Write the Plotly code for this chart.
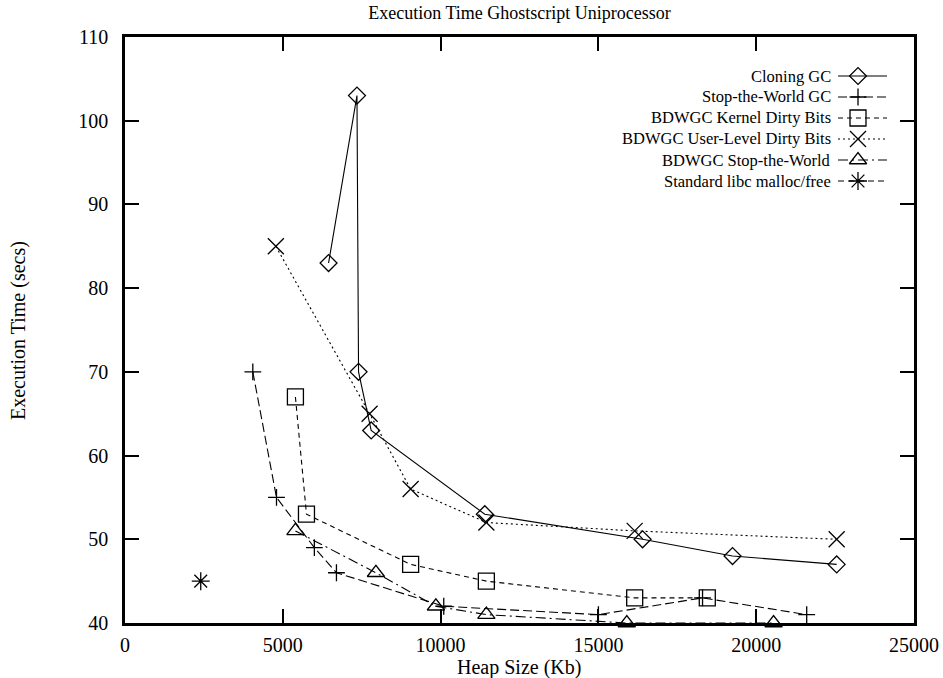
import plotly.graph_objects as go

# ---- data (Heap Size Kb, Execution Time secs) ----
clone_x = [6450, 7350, 7400, 7800, 11400, 16400, 19250, 22550]
clone_y = [83, 103, 70, 63, 53, 50, 48, 47]

stw_x = [4050, 4800, 6000, 6700, 10100, 15000, 18300, 21600]
stw_y = [70, 55, 49, 46, 42, 41, 43, 41]

kern_x = [5400, 5750, 9050, 11450, 16150, 18450]
kern_y = [67, 53, 47, 45, 43, 43]

user_x = [4780, 7750, 9050, 11450, 16150, 22550]
user_y = [85, 65, 56, 52, 51, 50]

bstw_x = [5400, 7950, 9850, 11450, 15900, 20550]
bstw_y = [51, 46, 42, 41, 40, 40]

libc_x = [2400]
libc_y = [45]

x_ticks = [0, 5000, 10000, 15000, 20000, 25000]
y_ticks = [40, 50, 60, 70, 80, 90, 100, 110]

names = ["Cloning GC", "Stop-the-World GC", "BDWGC Kernel Dirty Bits",
         "BDWGC User-Level Dirty Bits", "BDWGC Stop-the-World",
         "Standard libc malloc/free"]

FONT = "Liberation Serif"

series = [
    (clone_x, clone_y, "diamond-open", 13, "solid"),
    (stw_x, stw_y, "cross-thin-open", 12, "9px,4px"),
    (kern_x, kern_y, "square-open", 16, "5px,4px"),
    (user_x, user_y, "x-thin-open", 16, "2px,3px"),
    (bstw_x, bstw_y, "triangle-up-open", 15, "10px,4px,2px,4px"),
    (libc_x, libc_y, "asterisk-open", 15, "6px,4px"),
]

fig = go.Figure()
for (xs, ys, sym, sz, dash), name in zip(series, names):
    fig.add_trace(go.Scatter(
        x=xs, y=ys, name=name, mode="lines+markers",
        line=dict(color="black", width=1.1, dash=dash),
        marker=dict(symbol=sym, size=sz, color="black",
                    line=dict(color="black", width=1.3)),
        cliponaxis=False, showlegend=False))

# ---- custom gnuplot-style key (text left of sample) ----
row0 = (623 - 76) / 586.0
dy = 21 / 586.0
xt = (833 - 125) / 789.0
xl0 = (838 - 125) / 789.0
xl1 = (887 - 125) / 789.0
xm = (858 - 125) / 789.0
for i, ((xs, ys, sym, sz, dash), name) in enumerate(zip(series, names)):
    yy = row0 - i * dy
    fig.add_annotation(x=xt, y=yy, xref="paper", yref="paper", text=name,
                       showarrow=False, xanchor="right", yanchor="middle",
                       font=dict(family=FONT, size=16.5, color="black"))
    fig.add_trace(go.Scatter(
        x=[xl0, xl1], y=[yy, yy], xaxis="x2", yaxis="y2", mode="lines",
        line=dict(color="black", width=1.1, dash=dash),
        showlegend=False, hoverinfo="skip"))
    fig.add_trace(go.Scatter(
        x=[xm], y=[yy], xaxis="x2", yaxis="y2", mode="markers",
        marker=dict(symbol=sym, size=sz, color="black",
                    line=dict(color="black", width=1.3)),
        showlegend=False, hoverinfo="skip", cliponaxis=False))

# ---- axis titles as annotations ----
fig.add_annotation(x=(519 - 125) / 789.0, y=(623 - 667) / 586.0,
                   xref="paper", yref="paper", text="Heap Size (Kb)",
                   showarrow=False, xanchor="center", yanchor="middle",
                   font=dict(family=FONT, size=20, color="black"))
fig.add_annotation(x=(18 - 125) / 789.0, y=0.5,
                   xref="paper", yref="paper", text="Execution Time (secs)",
                   showarrow=False, xanchor="center", yanchor="middle",
                   textangle=-90,
                   font=dict(family=FONT, size=20, color="black"))

axis_common = dict(
    showline=True, linecolor="black", linewidth=2.5, mirror="ticks",
    ticks="inside", ticklen=14, tickwidth=2.2, tickcolor="black",
    showgrid=False, zeroline=False, automargin=False,
    tickfont=dict(family=FONT, size=20, color="black"),
)

fig.update_layout(
    width=943, height=678,
    margin=dict(l=125, r=29, t=37, b=55, autoexpand=False),
    paper_bgcolor="white", plot_bgcolor="white",
    title=dict(text="Execution Time Ghostscript Uniprocessor",
               x=(125 + 789 / 2) / 943, xanchor="center",
               y=1 - 13 / 678, yanchor="middle",
               font=dict(family=FONT, size=18, color="black")),
    xaxis=dict(range=[0, 25000], tickvals=x_ticks, tickformat="d",
               ticklabelstandoff=2, **axis_common),
    yaxis=dict(range=[40, 110], tickvals=y_ticks, tickformat="d",
               ticklabelstandoff=10, **axis_common),
    xaxis2=dict(range=[0, 1], overlaying="x", visible=False, fixedrange=True),
    yaxis2=dict(range=[0, 1], overlaying="y", visible=False, fixedrange=True),
    showlegend=False,
)

fig.write_html("out.html")
